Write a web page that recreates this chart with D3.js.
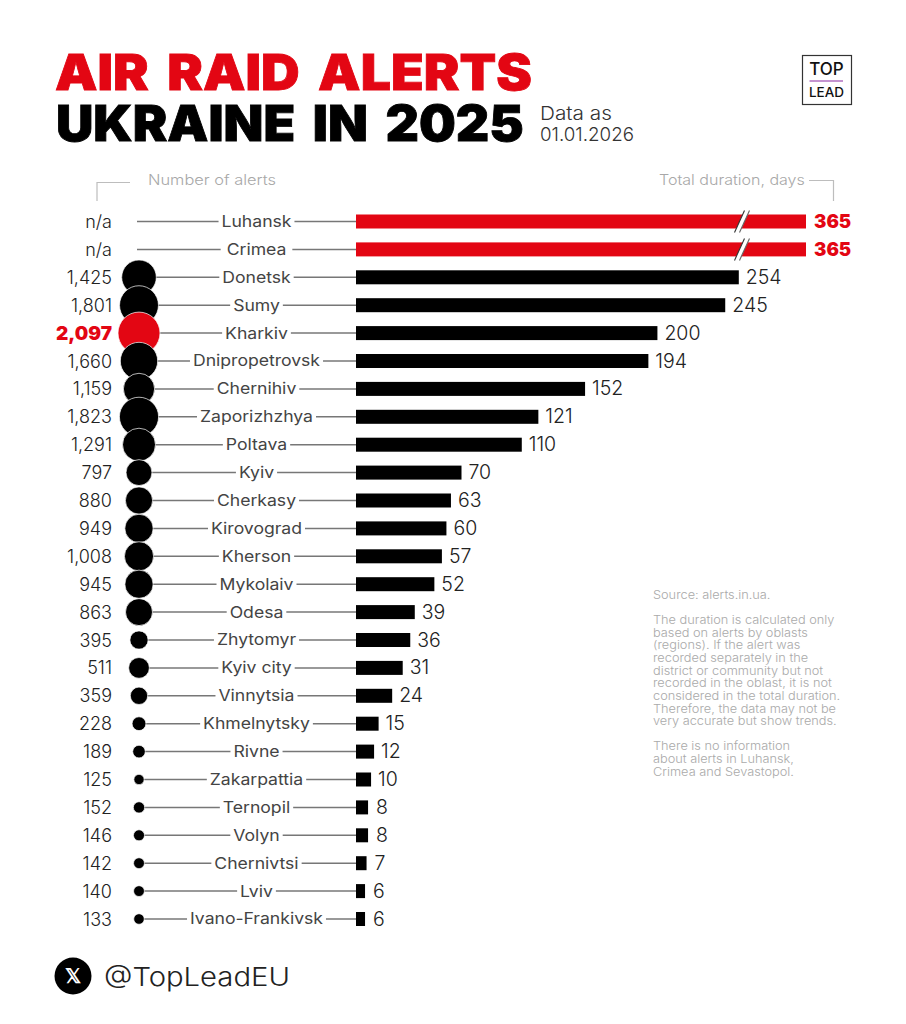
<!DOCTYPE html>
<html><head><meta charset="utf-8">
<style>html,body{margin:0;padding:0;background:#fff}svg{display:block}text{font-family:Inter,"Open Sans",sans-serif}</style>
<script src="https://cdnjs.cloudflare.com/ajax/libs/d3/7.8.5/d3.min.js"></script>
</head><body><div id="c"></div>
<script>
const regions=["Luhansk","Crimea","Donetsk","Sumy","Kharkiv","Dnipropetrovsk","Chernihiv","Zaporizhzhya","Poltava","Kyiv","Cherkasy","Kirovograd","Kherson","Mykolaiv","Odesa","Zhytomyr","Kyiv city","Vinnytsia","Khmelnytsky","Rivne","Zakarpattia","Ternopil","Volyn","Chernivtsi","Lviv","Ivano-Frankivsk"];
const alerts=[null,null,1425,1801,2097,1660,1159,1823,1291,797,880,949,1008,945,863,395,511,359,228,189,125,152,146,142,140,133];
const days=[365,365,254,245,200,194,152,121,110,70,63,60,57,52,39,36,31,24,15,12,10,8,8,7,6,6];
const sourceLines=["Source: alerts.in.ua.","","The duration is calculated only","based on alerts by oblasts","(regions). If the alert was","recorded separately in the","district or community but not","recorded in the oblast, it is not","considered in the total duration.","Therefore, the data may not be","very accurate but show trends.","","There is no information","about alerts in Luhansk,","Crimea and Sevastopol."];
const RED="#e30613",INK="#000",TXT="#333",GR="#bdbdbd";
const svg=d3.select("#c").append("svg").attr("width",906).attr("height",1024);
const y=d3.scalePoint().domain(regions).range([221.5,919]);
const x=d3.scaleLinear().domain([0,254,365]).range([356,738.8,806]);
const r=d3.scaleSqrt().domain([0,2097]).range([0,21]);
const fmt=d3.format(",");
function stretch(t,k){const ax=+t.attr("x"),ay=+t.attr("y");t.attr("transform",`translate(${ax},${ay}) scale(${k},1) translate(${-ax},${-ay})`);}
function fit(sel,w){sel.each(function(){stretch(d3.select(this),w/this.getComputedTextLength());});return sel;}
// title
svg.append("text").attr("x",55).attr("y",90).attr("font-size",49).attr("font-weight",900).attr("word-spacing",7).attr("stroke",RED).attr("stroke-width",.8).attr("fill",RED).text("AIR RAID ALERTS").call(fit,477);
svg.append("text").attr("x",56).attr("y",141).attr("font-size",49).attr("font-weight",900).attr("word-spacing",7).attr("stroke",INK).attr("stroke-width",.8).attr("fill",INK).text("UKRAINE IN 2025").call(fit,468);
svg.append("text").attr("x",540).attr("y",120).attr("font-size",18.5).attr("font-weight",300).attr("fill",TXT).text("Data as").call(fit,72);
svg.append("text").attr("x",540).attr("y",141).attr("font-size",18.5).attr("font-weight",300).attr("fill",TXT).text("01.01.2026").call(fit,94);
// logo
svg.append("rect").attr("x",802.5).attr("y",55.5).attr("width",49).attr("height",49).attr("fill","none").attr("stroke","#333").attr("stroke-width",1.2);
svg.append("text").attr("x",826.5).attr("y",74.5).attr("text-anchor","middle").attr("font-size",17).attr("font-weight",500).attr("fill","#111").text("TOP");
svg.append("line").attr("x1",809.5).attr("x2",843).attr("y1",81).attr("y2",81).attr("stroke","#b06fc0").attr("stroke-width",1.6);
svg.append("text").attr("x",826.5).attr("y",97).attr("text-anchor","middle").attr("font-size",13.5).attr("font-weight",500).attr("fill","#111").text("LEAD");
// headers
svg.append("text").attr("x",148).attr("y",185).attr("font-size",14.5).attr("font-weight",300).attr("fill","#a8a8a8").text("Number of alerts").call(fit,128);
svg.append("text").attr("x",659).attr("y",185).attr("font-size",14.5).attr("font-weight",300).attr("fill","#a8a8a8").text("Total duration, days").call(fit,146);
svg.append("path").attr("d","M97 201V182.5H130").attr("fill","none").attr("stroke",GR).attr("stroke-width",1.2);
svg.append("path").attr("d","M809 180.5H833.5V201").attr("fill","none").attr("stroke",GR).attr("stroke-width",1.2);
// rows
const rows=regions.map((n,i)=>({n,a:alerts[i],d:days[i]}));
const cx=139;
svg.append("g").selectAll("line").data(rows).join("line").attr("x1",d=>d.a==null?137:cx).attr("x2",356).attr("y1",d=>y(d.n)).attr("y2",d=>y(d.n)).attr("stroke","#777").attr("stroke-width",1.5);
svg.append("g").selectAll("circle").data(rows.filter(d=>d.a!=null)).join("circle").attr("cx",cx).attr("cy",d=>y(d.n)).attr("r",d=>r(d.a)).attr("fill",d=>d.n==="Kharkiv"?RED:INK).attr("stroke","#fff").attr("stroke-width",.7);
const LK=1.1,lab=svg.append("g").selectAll("g").data(rows).join("g");
lab.append("text").attr("x",256.5).attr("y",d=>y(d.n)+5.5).attr("text-anchor","middle").attr("font-size",16).attr("fill","#444").text(d=>d.n).each(function(){stretch(d3.select(this),LK);});
lab.each(function(d){const g=d3.select(this),t=g.select("text"),w=t.node().getComputedTextLength()*LK,p=d.n==="Crimea"?6:3;g.insert("rect","text").attr("x",256.5-w/2-p).attr("y",y(d.n)-8).attr("width",w+2*p).attr("height",16).attr("fill","#fff");});
svg.append("g").selectAll("text").data(rows).join("text").attr("x",112).attr("y",d=>y(d.n)+6.5).attr("text-anchor","end").attr("font-size",d=>d.n==="Kharkiv"?19:18).attr("font-weight",d=>d.n==="Kharkiv"?900:300).attr("fill",d=>d.n==="Kharkiv"?RED:"#222").text(d=>d.a==null?"n/a":fmt(d.a));
svg.append("g").selectAll("rect").data(rows).join("rect").attr("x",x(0)).attr("y",d=>y(d.n)-7).attr("width",d=>x(d.d)-x(0)).attr("height",14).attr("fill",d=>d.d===365?RED:INK);
svg.append("g").selectAll("text").data(rows).join("text").attr("x",d=>x(d.d)+(d.d===365?8:7)+(d.d<10?1:0)).attr("y",d=>y(d.n)+6.5).attr("font-size",d=>d.d===365?18.5:19.5).attr("font-weight",d=>d.d===365?900:300).attr("fill",d=>d.d===365?RED:"#222").text(d=>d.d);
// break marks
const brk=svg.append("g").selectAll("g").data(rows.filter(d=>d.d===365)).join("g").attr("transform",d=>`translate(741.5,${y(d.n)})`);
brk.append("path").attr("d","M-7 11L3 -11L8 -11L-2 11Z").attr("fill","#fff");
brk.append("path").attr("d","M-7 11L3 -11").attr("stroke","#333").attr("stroke-width",1.1).attr("fill","none");
brk.append("path").attr("d","M-2 11L8 -11").attr("stroke","#666").attr("stroke-width",1.1).attr("fill","none");
// notes
svg.append("g").selectAll("text").data(sourceLines).join("text").attr("x",653).attr("y",(d,i)=>599+i*12.62).attr("font-size",11.4).attr("font-weight",300).attr("fill","#aaa").text(d=>d).each(function(){stretch(d3.select(this),1.12);});
// footer
svg.append("circle").attr("cx",73).attr("cy",976).attr("r",18.5).attr("fill",INK);
svg.append("text").attr("x",73).attr("y",983).attr("text-anchor","middle").attr("font-size",20).attr("font-weight",700).attr("fill","#fff").text("𝕏");
svg.append("text").attr("x",104).attr("y",986).attr("font-size",26).attr("font-weight",300).attr("fill","#222").text("@TopLeadEU").call(fit,186);
</script></body></html>
